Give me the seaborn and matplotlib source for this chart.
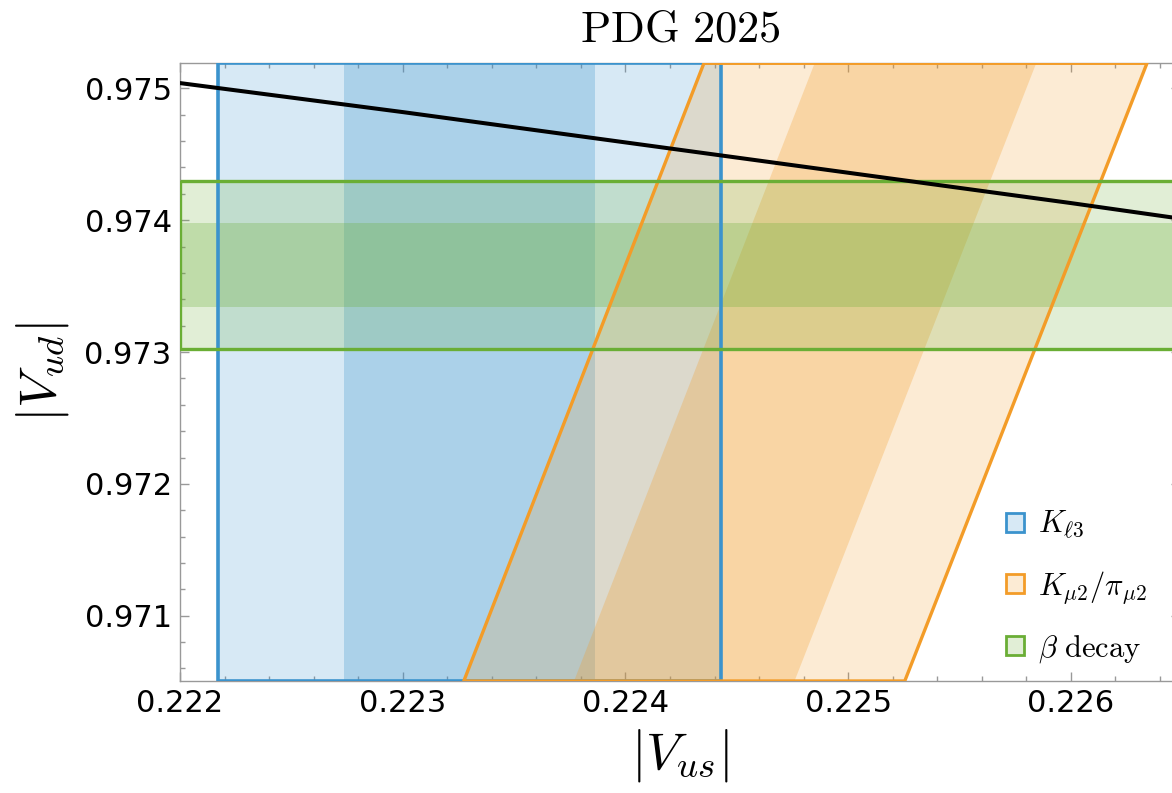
import numpy as np
import matplotlib
matplotlib.use("Agg")
import matplotlib.pyplot as plt
from matplotlib.patches import Patch
from matplotlib.ticker import MultipleLocator
import seaborn as sns

vus_kl3 = 0.2233          # K_l3 band (vertical)
vus_kl3_err = 0.000565
ratio_kmu2 = 0.23108      # K_mu2/pi_mu2 band: |Vus| = ratio * |Vud|
ratio_kmu2_err = 0.00051
vud_beta = 0.97366        # beta decay band (horizontal)
vud_beta_err = 0.00032

# Unitarity curve
vus_curve = [0.2220, 0.2230, 0.2240, 0.2250, 0.2260, 0.2265]
vud_curve = [0.97504, 0.97482, 0.97459, 0.97436, 0.97413, 0.97401]

# Axis ranges and ticks
x_range = [0.222, 0.22649]
y_range = [0.970505, 0.97519]
xticks = [0.222, 0.223, 0.224, 0.225, 0.226]
xtick_labels = ["0.222", "0.223", "0.224", "0.225", "0.226"]
yticks = [0.971, 0.972, 0.973, 0.974, 0.975]
ytick_labels = ["0.971", "0.972", "0.973", "0.974", "0.975"]

legend_labels = [r"$K_{\ell 3}$", r"$K_{\mu 2}/\pi_{\mu 2}$", r"$\beta\ \mathrm{decay}$"]

sns.set_style("ticks")
plt.rcParams["font.family"] = ["DejaVu Sans"]
plt.rcParams["mathtext.fontset"] = "cm"
plt.rcParams["text.color"] = "black"
plt.rcParams["axes.labelcolor"] = "black"
plt.rcParams["xtick.labelcolor"] = "black"
plt.rcParams["ytick.labelcolor"] = "black"

blue = matplotlib.colors.to_rgb("#3b93cd")
orange = matplotlib.colors.to_rgb("#f39c28")
green = matplotlib.colors.to_rgb("#6aae35")
a_outer, a_inner = 0.2, 0.28

fig = plt.figure(figsize=(11.72, 7.93), dpi=100)
ax = fig.add_axes([180 / 1172, 112 / 793, 1000 / 1172, 617.7 / 793])

yy = np.array(y_range)
xx = np.array(x_range)

# K_l3: vertical band
ax.fill_betweenx(yy, vus_kl3 - 2 * vus_kl3_err, vus_kl3 + 2 * vus_kl3_err,
                 facecolor=(*blue, a_outer), edgecolor="none", zorder=1)
ax.fill_betweenx(yy, vus_kl3 - vus_kl3_err, vus_kl3 + vus_kl3_err,
                 facecolor=(*blue, a_inner), edgecolor="none", zorder=1)
ax.fill_betweenx(yy, vus_kl3 - 2 * vus_kl3_err, vus_kl3 + 2 * vus_kl3_err,
                 facecolor="none", edgecolor=blue, lw=2.6, zorder=4)

# K_mu2/pi_mu2: slanted band through the origin
ax.fill_betweenx(yy, (ratio_kmu2 - 2 * ratio_kmu2_err) * yy, (ratio_kmu2 + 2 * ratio_kmu2_err) * yy,
                 facecolor=(*orange, a_outer), edgecolor="none", zorder=2)
ax.fill_betweenx(yy, (ratio_kmu2 - ratio_kmu2_err) * yy, (ratio_kmu2 + ratio_kmu2_err) * yy,
                 facecolor=(*orange, a_inner), edgecolor="none", zorder=2)
ax.fill_betweenx(yy, (ratio_kmu2 - 2 * ratio_kmu2_err) * yy, (ratio_kmu2 + 2 * ratio_kmu2_err) * yy,
                 facecolor="none", edgecolor=orange, lw=2.4, zorder=4)

# beta decay: horizontal band
ax.fill_between(xx, vud_beta - 2 * vud_beta_err, vud_beta + 2 * vud_beta_err,
                facecolor=(*green, a_outer), edgecolor="none", zorder=3)
ax.fill_between(xx, vud_beta - vud_beta_err, vud_beta + vud_beta_err,
                facecolor=(*green, a_inner), edgecolor="none", zorder=3)
ax.fill_between(xx, vud_beta - 2 * vud_beta_err, vud_beta + 2 * vud_beta_err,
                facecolor="none", edgecolor=green, lw=2.4, zorder=4.5)

# unitarity
sns.lineplot(x=vus_curve, y=vud_curve, color="black", lw=2.9, ax=ax, zorder=6)

ax.set_xlim(x_range)
ax.set_ylim(y_range)
ax.set_xticks(xticks, labels=xtick_labels)
ax.set_yticks(yticks, labels=ytick_labels)
ax.xaxis.set_minor_locator(MultipleLocator(0.0002))
ax.yaxis.set_minor_locator(MultipleLocator(0.0002))
ax.tick_params(which="both", direction="in", top=True, right=True,
               color="#999999", width=1, labelsize=22, pad=6, labelcolor="black")
ax.tick_params(which="major", length=6.5)
ax.tick_params(which="minor", length=3.6)
for s in ax.spines.values():
    s.set_color("#999999")
    s.set_linewidth(1)

ax.set_xlabel(r"$|V_{us}|$", fontsize=38, labelpad=6, color="black")
ax.set_ylabel(r"$|V_{ud}|$", fontsize=38, labelpad=10, color="black")
ax.set_title(r"$\mathrm{PDG\ 2025}$", fontsize=32, pad=16, color="black")

handles = [
    Patch(facecolor=(*blue, a_outer), edgecolor=blue, lw=2),
    Patch(facecolor=(*orange, a_outer), edgecolor=orange, lw=2),
    Patch(facecolor=(*green, a_outer), edgecolor=green, lw=2),
]
ax.legend(handles, legend_labels, loc="upper left",
          bbox_to_anchor=(1006 / 1172, 1 - 509 / 793), bbox_transform=fig.transFigure,
          frameon=False, fontsize=22, handlelength=0.6, handleheight=0.6,
          handletextpad=0.45, labelspacing=0.9, borderpad=0, borderaxespad=0)

fig.savefig("out.png", dpi=100)
